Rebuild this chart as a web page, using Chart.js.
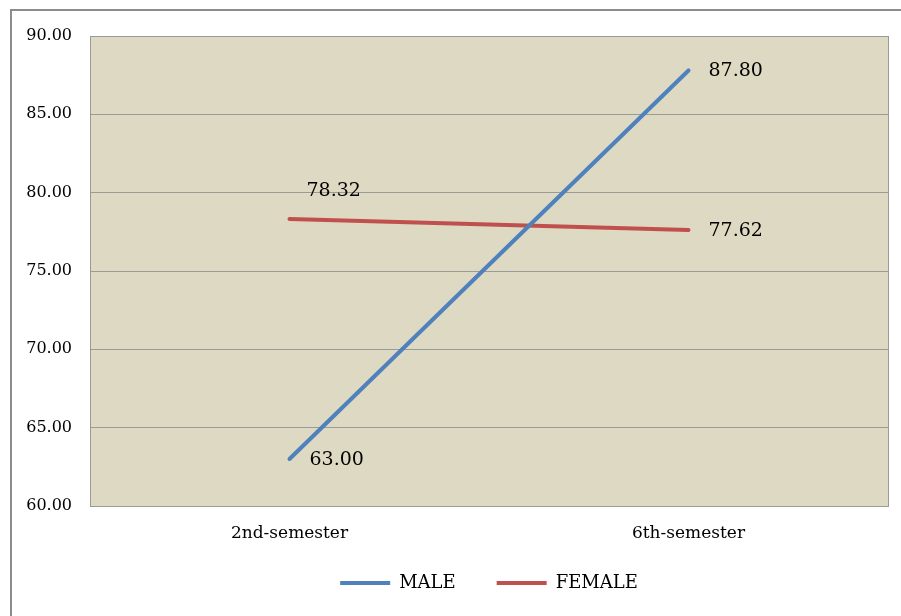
<!DOCTYPE html>
<html>
<head>
<meta charset="utf-8">
<script src="https://cdn.jsdelivr.net/npm/chart.js@4.4.0/dist/chart.umd.min.js"></script>
<style>
  html, body { margin: 0; padding: 0; background: #fff; }
  #wrap { position: relative; width: 901px; height: 616px; overflow: hidden; }
  #frame { position: absolute; left: 10px; top: 9px; width: 1000px; height: 700px;
           border-left: 2px solid #8c8c8c; border-top: 2px solid #8c8c8c; }
  canvas { position: absolute; left: 0; top: 0; }
</style>
</head>
<body>
<div id="wrap">
  <div id="frame"></div>
  <canvas id="scoreChart" width="901" height="616"></canvas>
</div>
<script>
  // data
  const semesters = ['2nd-semester', '6th-semester'];
  const maleScores = [63.00, 87.80];
  const femaleScores = [78.32, 77.62];
  const yTicks = [60, 65, 70, 75, 80, 85, 90];

  const serif = '"DejaVu Serif", "Liberation Serif", serif';

  // plot background + frame around the plot area
  const plotBackground = {
    id: 'plotBackground',
    beforeDraw(chart) {
      const { ctx, chartArea: a } = chart;
      ctx.save();
      ctx.fillStyle = '#ddd9c3';
      ctx.fillRect(a.left, a.top, a.right - a.left, a.bottom - a.top);
      ctx.restore();
    },
    afterDraw(chart) {
      const { ctx, chartArea: a } = chart;
      ctx.save();
      ctx.strokeStyle = '#9a9a9a';
      ctx.lineWidth = 1;
      ctx.strokeRect(Math.round(a.left) + 0.5, Math.round(a.top) + 0.5,
        Math.round(a.right - a.left), Math.round(a.bottom - a.top));
      ctx.restore();
    }
  };

  // value labels next to each point
  const valueLabels = {
    id: 'valueLabels',
    afterDatasetsDraw(chart) {
      const ctx = chart.ctx;
      ctx.save();
      ctx.font = '19px ' + serif;
      ctx.fillStyle = '#000';
      ctx.textBaseline = 'middle';
      ctx.textAlign = 'left';
      chart.data.datasets.forEach((ds, di) => {
        const meta = chart.getDatasetMeta(di);
        meta.data.forEach((pt, i) => {
          const above = ds.labelAbove && ds.labelAbove[i];
          const dx = above ? 17 : 20;
          const dy = above ? -28 : 1;
          ctx.fillText(ds.data[i].toFixed(2), pt.x + dx, pt.y + dy);
        });
      });
      ctx.restore();
    }
  };

  new Chart(document.getElementById('scoreChart'), {
    type: 'line',
    data: {
      labels: semesters,
      datasets: [
        {
          label: 'MALE',
          data: maleScores,
          borderColor: '#4f81bd',
          backgroundColor: '#4f81bd',
          borderWidth: 4,
          borderCapStyle: 'round',
          pointRadius: 0,
          labelAbove: [false, false]
        },
        {
          label: 'FEMALE',
          data: femaleScores,
          borderColor: '#c0504d',
          backgroundColor: '#c0504d',
          borderWidth: 4,
          borderCapStyle: 'round',
          pointRadius: 0,
          labelAbove: [true, false]
        }
      ]
    },
    options: {
      responsive: false,
      animation: false,
      layout: { padding: { top: 36, right: 13, bottom: 14, left: 0 } },
      scales: {
        x: {
          offset: true,
          grid: { display: false },
          border: { display: false },
          ticks: { color: '#000', font: { family: serif, size: 17 }, padding: 9 },
          afterFit(scale) { scale.height = 54; }
        },
        y: {
          min: 60,
          max: 90,
          afterBuildTicks(scale) { scale.ticks = yTicks.map(v => ({ value: v })); },
          grid: { color: '#9a9a9a', lineWidth: 1, drawTicks: false },
          border: { display: false },
          ticks: {
            color: '#000',
            padding: 18,
            font: { family: serif, size: 16 },
            callback: v => Number(v).toFixed(2)
          },
          afterFit(scale) { scale.width = 90; }
        }
      },
      plugins: {
        legend: {
          position: 'bottom',
          fullSize: false,
          labels: {
            usePointStyle: true,
            pointStyle: 'line',
            pointStyleWidth: 50,
            color: '#000',
            font: { family: serif, size: 18 },
            padding: 14,
            generateLabels(chart) {
              const items = Chart.defaults.plugins.legend.labels.generateLabels(chart);
              items[0].text += '\u2002\u2002\u2002';
              return items;
            }
          }
        },
        tooltip: { enabled: false }
      }
    },
    plugins: [plotBackground, valueLabels]
  });
</script>
</body>
</html>
